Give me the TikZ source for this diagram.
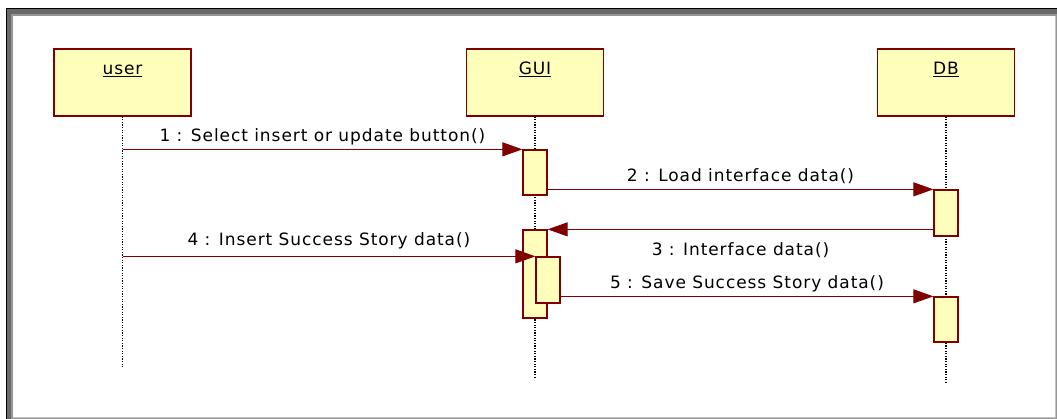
\documentclass[tikz,border=0pt]{standalone}
\usepackage{fontspec}
\setmainfont{DejaVu Sans}[LetterSpace=5.5]
\usetikzlibrary{arrows.meta}
\definecolor{umlred}{RGB}{128,0,0}
\definecolor{umlfill}{RGB}{255,255,187}
\definecolor{framedark}{RGB}{105,105,105}
\definecolor{framemid}{RGB}{150,150,150}
\definecolor{framelight}{RGB}{195,195,195}
\tikzset{
	objbox/.style={draw=umlred, fill=umlfill, line width=1.3pt, minimum width=137pt, minimum height=67pt, inner sep=0pt},
	actbox/.style={draw=umlred, fill=umlfill, line width=1.3pt, minimum width=24pt, inner sep=0pt},
	lifeline/.style={black, line width=1.3pt, dash pattern=on 1.2pt off 1.4pt},
	msg/.style={umlred, line width=1pt, -{Triangle[length=20pt,width=14pt]}},
	msglbl/.style={midway, anchor=base, inner sep=0pt, text=black},
}
\begin{document}
\begin{tikzpicture}[x=1pt, y=-1pt, every node/.style={font=\fontsize{17}{20}\selectfont}]
	\useasboundingbox (0,0) rectangle (1057,419);

	% frame
	\fill[framedark] (7,9) rectangle (1057,419);
	\fill[framemid] (11,14) rectangle (1057,419);
	\fill[white] (13,16) rectangle (1055,417);
	\draw[black, line width=1pt] (6.5,419) -- (6.5,9) -- (1057,9);
	\draw[framelight, line width=1.5pt] (13,417.5) -- (1055.5,417.5) -- (1055.5,16);

	% objects
	\node[objbox] (user) at (122.5,82.5) {};
	\node[objbox] (gui) at (535,82.5) {};
	\node[objbox] (db) at (946,82.5) {};
	\node[anchor=base, inner sep=0pt] (userlbl) at ([yshift=-26.5pt]user.north) {\underline{user}};
	\node[anchor=base, inner sep=0pt] (guilbl) at ([yshift=-26.5pt]gui.north) {\underline{GUI}};
	\node[anchor=base, inner sep=0pt] (dblbl) at ([yshift=-26.5pt]db.north) {\underline{DB}};

	% lifelines
	\coordinate (userend) at (122.5,368);
	\coordinate (guiend) at (535,377);
	\coordinate (dbend) at (946,383);
	\draw[lifeline] (user.south) -- (userend);
	\draw[lifeline] (gui.south) -- (guiend);
	\draw[lifeline] (db.south) -- (dbend);

	% activations
	\node[actbox, minimum height=45pt] (a1) at (535,172.5) {};
	\node[actbox, minimum height=88pt] (a2) at (535,274) {};
	\node[actbox, minimum height=46pt] (a3) at (548,280) {};
	\node[actbox, minimum height=46pt] (d1) at (946,213) {};
	\node[actbox, minimum height=45pt] (d2) at (946,319.5) {};

	% messages
	\draw[msg] (user.south |- a1.north) -- (a1.north west)
		node[msglbl, yshift=8pt]{1 : Select insert or update button()};
	\draw[msg] (a1.east |- d1.north) -- (d1.north west)
		node[msglbl, yshift=8pt]{2 : Load interface data()};
	\draw[msg] (d1.west |- a2.north) -- (a2.north east)
		node[msglbl, yshift=-26pt]{3 : Interface data()};
	\draw[msg] (user.south |- a3.north) -- (a3.north west)
		node[msglbl, yshift=10.5pt]{4 : Insert Success Story data()};
	\draw[msg] (a3.east |- d2.north) -- (d2.north west)
		node[msglbl, yshift=8pt]{5 : Save Success Story data()};
\end{tikzpicture}
\end{document}
